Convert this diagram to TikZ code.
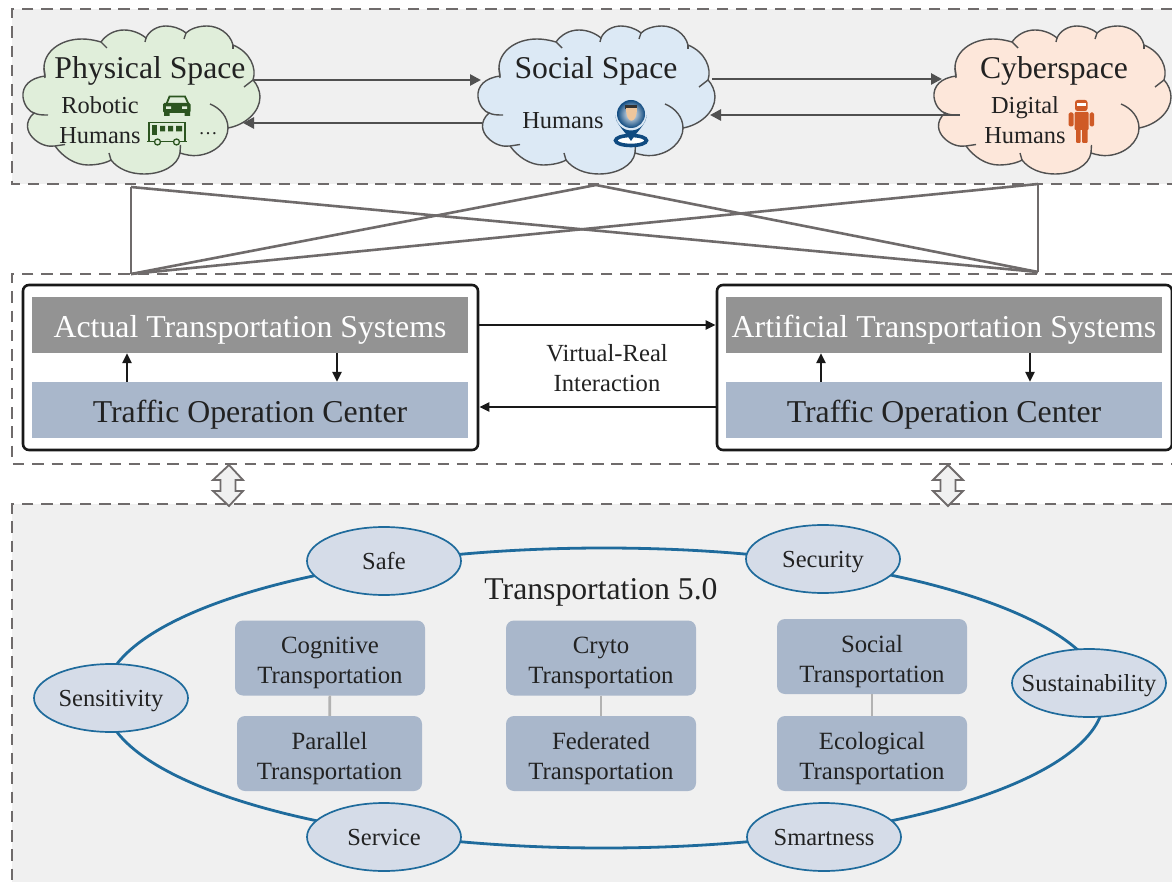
\documentclass[tikz,border=0pt]{standalone}
\usepackage{fontspec}
\setmainfont{Liberation Serif}
\usetikzlibrary{arrows.meta,shapes.geometric}

\definecolor{panelgray}{HTML}{F0F0F0}
\definecolor{dashgray}{HTML}{6F6B6B}
\definecolor{arrowgray}{HTML}{505050}
\definecolor{headgray}{HTML}{939393}
\definecolor{slateblue}{HTML}{A9B7CB}
\definecolor{ringblue}{HTML}{1F6B9C}
\definecolor{ovalfill}{HTML}{D5DCE8}
\definecolor{inkblack}{HTML}{222222}
\definecolor{physgreen}{HTML}{E0EEDA}
\definecolor{socialblue}{HTML}{DCE9F5}
\definecolor{cyberpeach}{HTML}{FDE7DA}
\definecolor{cardark}{HTML}{2C5520}
\definecolor{pinblue}{HTML}{0F4A80}
\definecolor{robotred}{HTML}{CF5A26}

\tikzset{
  bigtext/.style={text=inkblack,font=\fontsize{31.7}{36}\selectfont,text height=22pt,text depth=7pt,inner sep=0pt},
  smalltext/.style={text=inkblack,font=\fontsize{24.4}{30}\selectfont,text height=17pt,text depth=5pt,inner sep=0pt},
  headbar/.style={fill=headgray,text=white,minimum width=436pt,minimum height=56pt,inner sep=0pt,text height=26pt,text depth=1pt,font=\fontsize{31.8}{36}\selectfont},
  centerbar/.style={fill=slateblue,text=inkblack,minimum width=436pt,minimum height=56pt,inner sep=0pt,text height=25pt,text depth=1pt,font=\fontsize{31.8}{36}\selectfont},
  systembox/.style={draw=black!90,line width=2.6pt,rounded corners=6pt,minimum width=455pt,minimum height=165pt,inner sep=0pt},
  oval/.style={ellipse,draw=ringblue,fill=ovalfill,line width=1.7pt,minimum width=154pt,minimum height=68pt,inner sep=0pt,text=inkblack,text height=20pt,text depth=3.4pt,font=\fontsize{24.5}{30}\selectfont},
  modebox/.style={fill=slateblue,rounded corners=8pt,align=center,inner sep=0pt,minimum height=75pt,text=inkblack,font=\fontsize{24.8}{30}\selectfont,execute at begin node={\rule{0pt}{57pt}}},
  paneledge/.style={draw=dashgray,line width=2.8pt,dash pattern=on 11.5pt off 7.8pt},
  spacearrow/.style={draw=arrowgray,line width=2.6pt,-{Triangle[length=11pt,width=11pt]}},
  linkline/.style={draw=dashgray,line width=2.6pt},
  viarrow/.style={draw=black!90,line width=2.4pt,-{Triangle[length=10pt,width=9pt]}},
  updown/.style={draw=dashgray,fill=panelgray,line width=1.8pt,line join=miter},
}

\newcommand{\spacecloud}[2]{%
  \begin{scope}[shift={(#1,0)},line width=1.4pt,draw=arrowgray]
    \path[fill=#2,draw=arrowgray] (45,76) .. controls (30,78) and (22,86) .. (23,97)
      .. controls (24,106) and (30,112) .. (34,113)
      .. controls (24,122) and (27,132) .. (33,138)
      .. controls (40,145) and (48,147) .. (55,146)
      .. controls (63,157) and (75,165) .. (88,165)
      .. controls (97,165) and (106,163) .. (111,160)
      .. controls (118,169) and (130,174) .. (144,174)
      .. controls (163,174) and (178,165) .. (180,153)
      .. controls (186,155) and (192,156) .. (197,155.5)
      .. controls (215,154) and (228,141) .. (228,128)
      .. controls (245,125) and (260,112) .. (260,97)
      .. controls (260,91) and (257,84) .. (253,80)
      .. controls (257,68) and (250,52) .. (233,45)
      .. controls (230,33) and (218,26) .. (207,26)
      .. controls (198,26) and (190,29) .. (186,33)
      .. controls (180,28) and (172,26) .. (166,26)
      .. controls (157,26) and (149,31) .. (146,38)
      .. controls (140,33) and (132,30) .. (124,30)
      .. controls (114,30) and (106,35) .. (101,42)
      .. controls (94,40) and (88,39) .. (82,39)
      .. controls (60,39) and (44,52) .. (44,68) -- cycle;
    \draw (34,113) .. controls (38,115) and (43,115) .. (48,115);
    \draw (55,146) -- (65,144.5);
    \draw (111,160) -- (109,153);
    \draw (180,153) -- (180.5,145);
    \draw (228,128) .. controls (228,117) and (220,108) .. (210,104);
    \draw (253,80) -- (244,87);
    \draw (233,45) -- (233,49);
    \draw (186,33) -- (184,39);
    \draw (146,38) -- (145,42);
    \draw (101,42) -- (107,48);
    \draw (44,68) -- (45,78);
  \end{scope}}

\begin{document}
\begin{tikzpicture}[x=1pt,y=-1pt]
  \useasboundingbox (0,0) rectangle (1172,882);
  \clip (0,0) rectangle (1172,882);
  \fill[white] (0,0) rectangle (1172,882);
  % panels
  \fill[panelgray] (12,9) rectangle (1172,184);
  \fill[panelgray] (12,504) rectangle (1172,882);
  \draw[paneledge] (1172,9) -- (12,9) -- (12,184) -- (1172,184);
  \draw[paneledge] (1172,274) -- (12,274) -- (12,464) -- (1172,464);
  \draw[paneledge] (1172,504) -- (12,504) -- (12,882);

  % clouds
  \spacecloud{0}{physgreen}
  \spacecloud{455}{socialblue}
  \spacecloud{911}{cyberpeach}
  \node[bigtext] (physical) at (150,71) {Physical Space};
  \node[smalltext] (robotic) at (100,108) {Robotic};
  \node[smalltext] (humansa) at (100,138) {Humans};
  \node[anchor=base,inner sep=0pt,text=inkblack,font=\fontsize{19}{24}\selectfont] (dotsa) at (208,135) {…};
  \node[bigtext] (social) at (596,71) {Social Space};
  \node[smalltext] (humansb) at (563,123) {Humans};
  \node[bigtext] (cyber) at (1054,71) {Cyberspace};
  \node[smalltext] (digital) at (1025,108) {Digital};
  \node[smalltext] (humansc) at (1025,138) {Humans};

  % car
  \draw[cardark,line width=1.8pt,fill=physgreen] (166.5,104) -- (169.5,96.5) -- (185,96.5) -- (188.5,104);
  \fill[cardark,rounded corners=1.5pt] (163,103) rectangle (190.5,113);
  \fill[cardark] (164,112) rectangle (169.5,116) (184.5,112) rectangle (190,116);
  \fill[physgreen] (166,106.5) rectangle (171,109) (182,106.5) rectangle (187,109);
  % bus
  \draw[cardark,line width=1.4pt] (149,122.5) rectangle (185,141.5);
  \draw[cardark,line width=1.4pt] (147,141.5) -- (187,141.5);
  \fill[cardark] (152,125.5) rectangle (157,135);
  \fill[cardark] (160,126) rectangle (165,131.5) (168,126) rectangle (173,131.5) (176,126) rectangle (182,131.5);
  \draw[cardark,line width=1.3pt,fill=physgreen] (157.5,142) circle (3pt) (176.5,142) circle (3pt);
  % pin
  \draw[pinblue,line width=3.6pt,fill=white] (631,140.5) ellipse (15.5pt and 5pt);
  \fill[pinblue] (615.5,115) arc (180:0:15.5) .. controls (646.5,124) and (638,130) .. (631,141) .. controls (624,130) and (615.5,124) .. (615.5,115) -- cycle;
  \shade[inner color=white,outer color=pinblue] (631,114) circle (14pt);
  \fill[black!80] (625,105) rectangle (637,109);
  \fill[orange!45!brown!45!white] (625.5,108) .. controls (625.5,125) and (636.5,125) .. (636.5,108) -- cycle;
  % robot
  \begin{scope}[robotred]
    \fill[rounded corners=2.5pt] (1075,100) rectangle (1087.5,111);
    \fill[white] (1076.5,103.5) rectangle (1086,106);
    \fill[rounded corners=1pt] (1074.5,112) rectangle (1088.5,130);
    \fill[rounded corners=1.5pt] (1068.5,112.5) rectangle (1073.5,126.5) (1089.5,112.5) rectangle (1094,126.5);
    \fill[rounded corners=1pt] (1076,129) rectangle (1080.5,143) (1082,129) rectangle (1087.5,143);
  \end{scope}

  % arrows between spaces
  \coordinate (physout) at (253,80);
  \coordinate (socialin) at (481,80);
  \coordinate (socialback) at (482,123);
  \coordinate (physin) at (243,123);
  \coordinate (socialout) at (712,79);
  \coordinate (cyberin) at (942,79);
  \coordinate (cyberback) at (960,115);
  \coordinate (socialin2) at (710,115);
  \draw[spacearrow] (physout) -- (socialin);
  \draw[spacearrow] (socialback) -- (physin);
  \draw[spacearrow] (socialout) -- (cyberin);
  \draw[spacearrow] (cyberback) -- (socialin2);

  % links between panels
  \coordinate (topa) at (131,187);
  \coordinate (topb) at (596,185);
  \coordinate (topc) at (1038,184);
  \coordinate (lowa) at (131,274);
  \coordinate (lowb) at (1038,272);
  \draw[linkline] (topa) -- (lowa);
  \draw[linkline] (topa) -- (lowb);
  \draw[linkline] (topb) -- (lowa);
  \draw[linkline] (topb) -- (lowb);
  \draw[linkline] (topc) -- (lowa);
  \draw[linkline] (topc) -- (lowb);

  % systems
  \node[systembox] (actual) at (250.5,367.5) {};
  \node[systembox] (artificial) at (944.5,367.5) {};
  \node[headbar] (acthead) at (250,325) {Actual Transportation Systems};
  \node[centerbar] (actcenter) at (250,410) {Traffic Operation Center};
  \node[headbar] (arthead) at (944,325) {Artificial Transportation Systems};
  \node[centerbar] (artcenter) at (944,410) {Traffic Operation Center};
  \draw[viarrow] (actcenter.north -| 127,0) -- (acthead.south -| 127,0);
  \draw[viarrow] (acthead.south -| 337,0) -- (actcenter.north -| 337,0);
  \draw[viarrow] (artcenter.north -| 821,0) -- (arthead.south -| 821,0);
  \draw[viarrow] (arthead.south -| 1030,0) -- (artcenter.north -| 1030,0);
  \draw[viarrow] ([yshift=42.5pt]actual.east) -- ([yshift=42.5pt]artificial.west);
  \draw[viarrow] ([yshift=-39.5pt]artificial.west) -- ([yshift=-39.5pt]actual.east);
  \node[align=center,inner sep=0pt,text=inkblack,font=\fontsize{24.6}{30}\selectfont] (interact) at (607,368) {Virtual-Real\\Interaction};

  % double arrows
  \draw[updown] (229,465) -- (243,480) -- (235.5,480) -- (235.5,491) -- (243,491) -- (229,506) -- (213,491) -- (220.5,491) -- (220.5,480) -- (213,480) -- cycle;
  \draw[updown] (948,465) -- (963,480) -- (955.5,480) -- (955.5,491) -- (963,491) -- (948,506) -- (933,491) -- (940.5,491) -- (940.5,480) -- (933,480) -- cycle;

  % ring
  \draw[ringblue,line width=2.8pt] (604,698) ellipse (500pt and 150pt);
  \node[text=inkblack,font=\fontsize{31.7}{36}\selectfont,inner sep=0pt,text height=21pt,text depth=1pt] (title) at (601,589) {Transportation 5.0};
  \node[oval] (safe) at (384,561) {Safe};
  \node[oval] (security) at (823,559) {Security};
  \node[oval] (sensitivity) at (111,698) {Sensitivity};
  \node[oval] (sustain) at (1089,683) {\makebox[100pt]{Sustainability}};
  \node[oval] (service) at (384,837) {Service};
  \node[oval] (smartness) at (824,837) {Smartness};

  % modes
  \node[modebox,minimum width=190pt] (cognitive) at (330,658) {Cognitive\\Transportation};
  \node[modebox,minimum width=185pt] (parallel) at (329.5,753.5) {Parallel\\Transportation};
  \node[modebox,minimum width=190pt] (cryto) at (601,658) {Cryto\\Transportation};
  \node[modebox,minimum width=190pt] (federated) at (601,753.5) {Federated\\Transportation};
  \node[modebox,minimum width=190pt] (socialmode) at (872,656.5) {Social\\Transportation};
  \node[modebox,minimum width=190pt] (ecological) at (872,753.5) {Ecological\\Transportation};
  \draw[black!30,line width=2.6pt] (cognitive) -- (parallel);
  \draw[black!30,line width=2.6pt] (cryto) -- (federated);
  \draw[black!30,line width=2.6pt] (socialmode) -- (ecological);
\end{tikzpicture}
\end{document}
